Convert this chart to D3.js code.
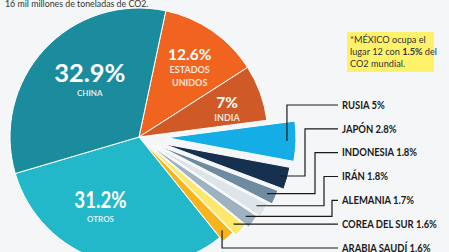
<!DOCTYPE html>
<html>
<head>
<meta charset="utf-8">
<script src="https://cdn.jsdelivr.net/npm/d3@7"></script>
<style>
  html, body { margin: 0; padding: 0; background: #f4f6f8; }
  svg { display: block; font-family: Lato, "Noto Sans", sans-serif; }
</style>
</head>
<body>
<div id="chart"></div>
<script>
// clockwise from the top, starting with Estados Unidos
var countries = ["ESTADOS UNIDOS", "INDIA", "RUSIA", "JAPÓN", "INDONESIA", "IRÁN",
                 "ALEMANIA", "COREA DEL SUR", "ARABIA SAUDÍ", "OTROS", "CHINA"];
var shares = [12.6, 7, 5, 2.8, 1.8, 1.8, 1.7, 1.6, 1.6, 31.2, 32.9];
var colors = ["#f1641f", "#cf5a28", "#15ade6", "#16314f", "#6e8ba0", "#dde4ea",
              "#9eb2c2", "#fde86c", "#f9b31b", "#22b7c9", "#1b8c9d"];
var title = "16 mil millones de toneladas de CO2.";
var mexicoRank = 12;
var mexicoShare = 1.5;

// squeeze a text horizontally (the original uses a narrow font)
function squeeze(sel, k) {
    sel.each(function() {
        var len = this.getComputedTextLength();
        d3.select(this)
          .attr("textLength", len * k)
          .attr("lengthAdjust", "spacingAndGlyphs");
    });
}

function init() {
    var w = 449;
    var h = 252;
    var cx = 139, cy = 137, R = 129;
    var startDeg = 12;

    // how far each slice is pulled out of the pie
    var explode = [0, 0, 28, 25, 20, 16, 13, 9, 5, 0, 0];
    // slices with the label inside: nudge from the centroid, font size,
    // sub-label size, squeeze
    var inside = {
        0:  {dx: 4,   dy: -10, size: 16,   sub: 9, k: 0.97},
        1:  {dx: 11,  dy: -1,  size: 15.5, sub: 9, k: 1},
        9:  {dx: -14, dy: -7,  size: 22,   sub: 8, k: 0.85},
        10: {dx: 11,  dy: 1,   size: 25.5, sub: 8, k: 1}
    };
    // elbow x of the leader lines (null = straight up/down from the slice)
    var elbows = [null, 305, 315, 324, 332, null, null];

    var data = countries.map(function(c, i) {
        return {name: c, value: shares[i], color: colors[i], off: explode[i], idx: i};
    });

    var a0 = startDeg * Math.PI / 180;
    var pie = d3.pie()
                .sort(null)
                .value(function(d) { return d.value; })
                .startAngle(a0)
                .endAngle(a0 + 2 * Math.PI);
    var arcs = pie(data);

    var arc = d3.arc().innerRadius(0).outerRadius(R);
    var labelArc = d3.arc().innerRadius(82).outerRadius(82);

    function mid(d) { return (d.startAngle + d.endAngle) / 2; }
    function shift(d) {
        var m = mid(d);
        return [Math.sin(m) * d.data.off, -Math.cos(m) * d.data.off];
    }

    var svg = d3.select("#chart")
                .append("svg")
                .attr("width", w)
                .attr("height", h);

    svg.append("rect")
       .attr("width", w)
       .attr("height", h)
       .attr("fill", "#f4f6f8");

    svg.append("text")
       .attr("x", 5)
       .attr("y", 7)
       .attr("font-size", 10)
       .attr("fill", "#333")
       .text(title)
       .call(squeeze, 0.88);

    var g = svg.append("g")
               .attr("transform", "translate(" + cx + "," + cy + ")");

    g.selectAll("path")
     .data(arcs)
     .enter()
     .append("path")
     .attr("d", arc)
     .attr("transform", function(d) {
         return "translate(" + shift(d) + ")";
     })
     .attr("fill", function(d) { return d.data.color; })
     .attr("stroke", "#fff")
     .attr("stroke-width", 1);

    // labels inside the big slices
    var big = arcs.filter(function(d) { return inside[d.data.idx]; });

    var bl = g.selectAll(".big")
              .data(big)
              .enter()
              .append("g")
              .attr("class", "big")
              .attr("text-anchor", "middle")
              .attr("fill", "#fff")
              .attr("font-weight", "bold")
              .attr("transform", function(d) {
                  var c = labelArc.centroid(d);
                  var o = inside[d.data.idx];
                  return "translate(" + (c[0] + o.dx) + "," + (c[1] + o.dy) + ")";
              });

    bl.each(function(d) {
        var o = inside[d.data.idx];
        var t = d3.select(this);
        t.append("text")
         .attr("font-size", o.size)
         .text(d.data.value + "%")
         .call(squeeze, o.k);
        d.data.name.split(" ").forEach(function(word, k) {
            t.append("text")
             .attr("y", 13.5 + k * 12.5)
             .attr("font-size", o.sub)
             .attr("fill-opacity", 0.85)
             .text(word);
        });
    });

    // leader lines and labels for the small slices
    var small = arcs.filter(function(d) { return d.data.off > 0; });
    var labelY = d3.scaleLinear().domain([0, small.length - 1]).range([105, 248]);
    var lineEnd = 338;

    small.forEach(function(d, k) {
        var m = mid(d);
        var s = shift(d);
        var ax = cx + s[0] + Math.sin(m) * 120;
        var ay = cy + s[1] - Math.cos(m) * 120;
        var ly = labelY(k);
        var ex = elbows[k] == null ? ax : elbows[k];

        svg.append("path")
           .attr("d", "M" + ax + "," + ay + "H" + ex + "V" + ly + "H" + lineEnd)
           .attr("fill", "none")
           .attr("stroke", "#1a1a1a")
           .attr("stroke-width", 1.2);

        svg.append("text")
           .attr("class", "callout")
           .attr("x", lineEnd + 4)
           .attr("y", ly + 3.8)
           .attr("font-size", 10.5)
           .attr("font-weight", "bold")
           .attr("fill", "#1a1a1a")
           .text(d.data.name + " " + d.data.value + "%");
    });
    svg.selectAll(".callout").call(squeeze, 0.9);

    // note about Mexico
    svg.append("rect")
       .attr("x", 347)
       .attr("y", 32)
       .attr("width", 87)
       .attr("height", 40)
       .attr("fill", "#fff26b");

    var note = svg.append("g")
                  .attr("transform", "translate(350,0) scale(0.92,1)")
                  .attr("font-size", 10)
                  .attr("fill", "#333");
    note.append("text").attr("y", 43).text("*MÉXICO ocupa el");
    var l2 = note.append("text").attr("y", 55);
    l2.append("tspan").text("lugar " + mexicoRank + " con ");
    l2.append("tspan").attr("font-weight", "bold").text(mexicoShare + "%");
    l2.append("tspan").text(" del");
    note.append("text").attr("y", 67).text("CO2 mundial.");
}

window.onload = init;
</script>
</body>
</html>
